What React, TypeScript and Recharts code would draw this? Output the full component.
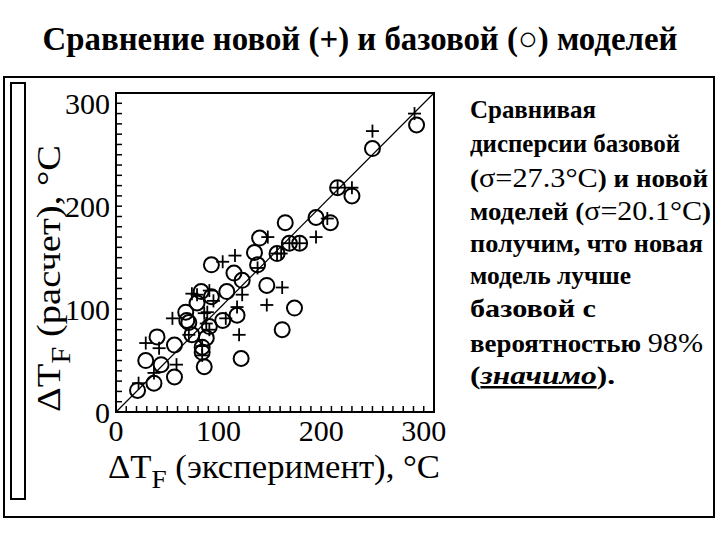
import React from 'react';
import { ScatterChart, Scatter, XAxis, YAxis, ReferenceLine, ReferenceArea } from 'recharts';

// Base model (circles)
const baseX = [21, 37, 57, 29, 44, 40, 57, 71, 68, 86, 84, 84, 74, 69, 83, 93, 91, 104, 118, 108, 93, 115, 123, 122, 138, 147, 162, 174, 135, 157, 140, 165, 169, 179, 195, 209, 216, 230, 250, 293, 79, 88];
const baseY = [21, 28, 34, 50, 46, 73, 65, 87, 97, 44, 58, 63, 75, 89, 117, 112, 83, 89, 94, 117, 143, 135, 128, 52, 143, 123, 80, 101, 155, 154, 169, 184, 164, 164, 189, 184, 218, 210, 256, 279, 106, 72];
// New model (plus signs)
const newX = [22, 37, 29, 42, 59, 55, 71, 79, 86, 88, 84, 91, 89, 74, 91, 104, 116, 123, 118, 107, 120, 147, 162, 138, 148, 157, 161, 169, 179, 195, 206, 230, 216, 250, 291, 84, 95];
const newY = [28, 38, 67, 62, 46, 91, 75, 114, 96, 86, 55, 80, 97, 115, 118, 146, 152, 114, 102, 91, 75, 104, 121, 140, 170, 154, 154, 164, 164, 170, 188, 218, 218, 273, 290, 64, 108];

const axisTicks = [0, 10, 20, 30, 40, 50, 60, 70, 80, 90, 100, 110, 120, 130, 140, 150, 160, 170, 180, 190, 200, 210, 220, 230, 240, 250, 260, 270, 280, 290, 300];
const majorTicks = [0, 100, 200, 300];
const domainMax = 310;

const baseData = baseX.map((x, i) => ({ x, y: baseY[i] }));
const newData = newX.map((x, i) => ({ x, y: newY[i] }));

const SERIF = '"Liberation Serif", "DejaVu Serif", serif';

const CircleShape = (props: any) => (
  <circle cx={props.cx} cy={props.cy} r={7.5} fill="none" stroke="#000" strokeWidth={2} />
);
const PlusShape = (props: any) => (
  <g stroke="#000" strokeWidth={1.8}>
    <line x1={props.cx - 6.5} y1={props.cy} x2={props.cx + 6.5} y2={props.cy} />
    <line x1={props.cx} y1={props.cy - 6.5} x2={props.cx} y2={props.cy + 6.5} />
  </g>
);

const fmt = (v: number) => (majorTicks.includes(v) ? String(v) : '');

export default function App() {
  return (
    <div style={{ position: 'absolute', left: 0, top: 0, width: 720, height: 540, background: '#fff', overflow: 'hidden' }}>
      <ScatterChart width={720} height={540} margin={{ top: 93, right: 286, bottom: 88, left: 56 }}>
        <XAxis
          type="number"
          dataKey="x"
          domain={[0, domainMax]}
          ticks={axisTicks}
          interval={0}
          tickFormatter={fmt}
          height={40}
          tickSize={-6}
          tickMargin={14}
          axisLine={{ stroke: '#000', strokeWidth: 2 }}
          tickLine={{ stroke: '#000', strokeWidth: 1.5 }}
          tick={{ fontSize: 30, fontFamily: SERIF, fill: '#000' }}
          allowDataOverflow
        />
        <YAxis
          type="number"
          dataKey="y"
          domain={[0, domainMax]}
          ticks={axisTicks}
          interval={0}
          tickFormatter={fmt}
          width={60}
          tickSize={-6}
          tickMargin={12}
          axisLine={{ stroke: '#000', strokeWidth: 2 }}
          tickLine={{ stroke: '#000', strokeWidth: 1.5 }}
          tick={{ fontSize: 30, fontFamily: SERIF, fill: '#000' }}
          allowDataOverflow
        />
        <ReferenceArea x1={0} x2={domainMax} y1={0} y2={domainMax} fill="none" stroke="#000" strokeWidth={2} ifOverflow="visible" />
        <ReferenceLine segment={[{ x: 0, y: 0 }, { x: domainMax, y: domainMax }]} stroke="#000" strokeWidth={1.2} />
        <Scatter data={baseData} shape={CircleShape} isAnimationActive={false} />
        <Scatter data={newData} shape={PlusShape} isAnimationActive={false} />
      </ScatterChart>
      <svg width={720} height={540} style={{ position: 'absolute', left: 0, top: 0, pointerEvents: 'none' }}>
        <text x={360} y={50} textAnchor="middle" fontFamily={SERIF} fontWeight="bold" fontSize={34} fill="#000" textLength={635} lengthAdjust="spacingAndGlyphs">
          Сравнение новой (+) и базовой (○) моделей
        </text>
        <rect x={4} y={77} width={710} height={440} fill="none" stroke="#000" strokeWidth={2} />
        <rect x={11} y={83} width={14} height={416} fill="none" stroke="#000" strokeWidth={2} />
        <text x={108} y={478} fontFamily={SERIF} fontSize={33} fill="#000" textLength={332} lengthAdjust="spacingAndGlyphs">
          ΔT<tspan dy={10} fontSize={26}>F</tspan><tspan dy={-10}> (эксперимент),  °C</tspan>
        </text>
        <text transform="translate(60,412) rotate(-90)" fontFamily={SERIF} fontSize={34} fill="#000" textLength={267} lengthAdjust="spacingAndGlyphs">
          ΔT<tspan dy={10} fontSize={27}>F</tspan><tspan dy={-10}> (расчет),  °C</tspan>
        </text>
        <g fontFamily={SERIF} fontWeight="bold" fontSize={25} fill="#000">
          <text x={470} y={118} textLength={126} lengthAdjust="spacingAndGlyphs">Сравнивая</text>
          <text x={470} y={152} textLength={210} lengthAdjust="spacingAndGlyphs">дисперсии базовой</text>
          <text x={470} y={187} textLength={238} lengthAdjust="spacingAndGlyphs">(<tspan fontWeight="normal" fontSize={28}>σ=27.3°C</tspan>) и новой</text>
          <text x={470} y={220} textLength={241} lengthAdjust="spacingAndGlyphs">моделей (<tspan fontWeight="normal" fontSize={28}>σ=20.1°C</tspan>)</text>
          <text x={470} y={252} textLength={233} lengthAdjust="spacingAndGlyphs">получим, что новая</text>
          <text x={470} y={284} textLength={161} lengthAdjust="spacingAndGlyphs">модель лучше</text>
          <text x={470} y={317} textLength={126} lengthAdjust="spacingAndGlyphs">базовой с</text>
          <text x={470} y={352} textLength={233} lengthAdjust="spacingAndGlyphs">вероятностью <tspan fontWeight="normal" fontSize={28}>98%</tspan></text>
          <text x={470} y={384} textLength={145} lengthAdjust="spacingAndGlyphs">(<tspan fontStyle="italic" textDecoration="underline">значимо</tspan>).</text>
        </g>
      </svg>
    </div>
  );
}
